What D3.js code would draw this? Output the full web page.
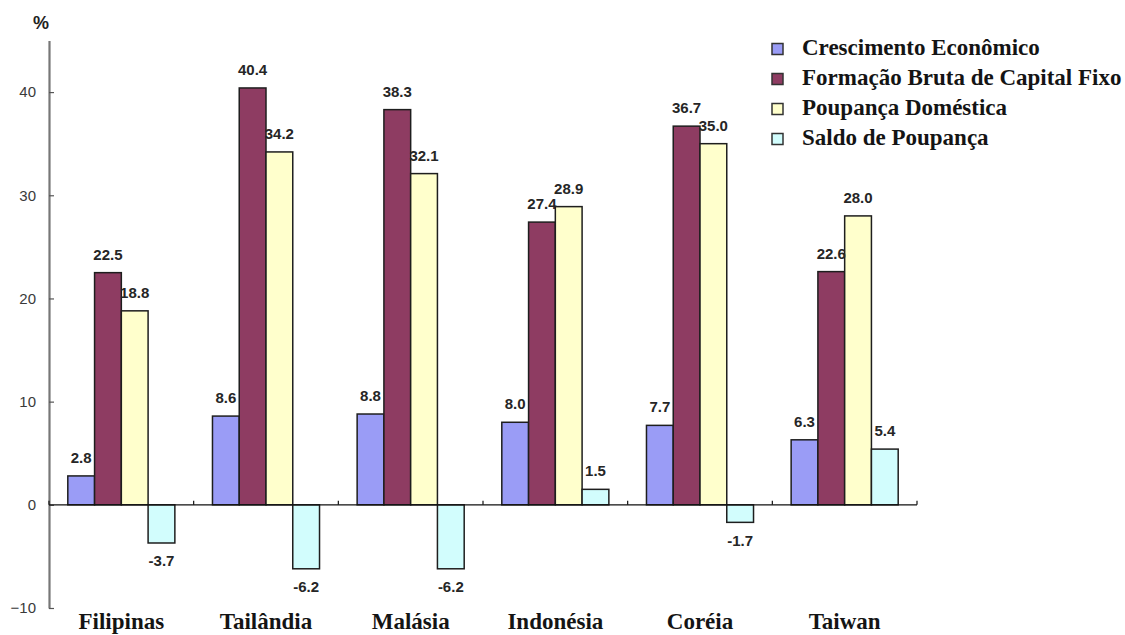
<!DOCTYPE html>
<html>
<head>
<meta charset="utf-8">
<script src="https://cdn.jsdelivr.net/npm/d3@7/dist/d3.min.js"></script>
<style>
  html, body { margin: 0; padding: 0; background: #fff; }
  svg { display: block; }
</style>
</head>
<body>
<svg id="chart" width="1125" height="635"></svg>
<script>
// Countries (x categories)
const categories = ["Filipinas", "Tailândia", "Malásia", "Indonésia", "Coréia", "Taiwan"];

// Series names, in legend order
const seriesNames = [
  "Crescimento Econômico",
  "Formação Bruta de Capital Fixo",
  "Poupança Doméstica",
  "Saldo de Poupança"
];

// Values per series, one per country (%)
const crescimento = [2.8, 8.6, 8.8, 8.0, 7.7, 6.3];
const formacao    = [22.5, 40.4, 38.3, 27.4, 36.7, 22.6];
const poupanca    = [18.8, 34.2, 32.1, 28.9, 35.0, 28.0];
const saldo       = [-3.7, -6.2, -6.2, 1.5, -1.7, 5.4];

// Y axis ticks
const yTicks = [-10, 0, 10, 20, 30, 40];
const yUnit = "%";

(function draw() {
  const seriesValues = [crescimento, formacao, poupanca, saldo];
  const colors = ["#9a9cf6", "#8e3c62", "#ffffcc", "#d2fdfd"];
  const serif = "'Liberation Serif', 'Times New Roman', Tinos, 'DejaVu Serif', serif";
  const sans = "'Liberation Sans', Arial, sans-serif";

  const svg = d3.select("#chart");

  const plotLeft = 49, plotRight = 917, plotTop = 40.5, plotBottom = 608;

  const y = d3.scaleLinear().domain([-10, 45]).range([plotBottom, plotTop]);
  const x0 = d3.scaleBand().domain(categories).range([plotLeft, plotRight]).padding(0);
  const bw = x0.bandwidth();
  const x1 = d3.scaleBand().domain(d3.range(seriesNames.length))
    .range([bw * 0.13, bw * 0.87]).padding(0);

  // Y axis with inward ticks
  const yAxis = d3.axisLeft(y).tickValues(yTicks).tickSizeInner(-5).tickSizeOuter(0).tickPadding(13);
  const gy = svg.append("g").attr("transform", `translate(${plotLeft},0)`).call(yAxis);
  gy.select(".domain").attr("stroke", "#777").attr("stroke-width", 2.2);
  gy.selectAll(".tick line").attr("stroke", "#555").attr("stroke-width", 1.2);
  gy.selectAll(".tick text")
    .attr("fill", "#3a3a3a")
    .style("font-family", sans)
    .style("font-size", "15px");

  svg.append("text")
    .attr("x", 41).attr("y", 29)
    .attr("text-anchor", "middle")
    .style("font-family", sans)
    .style("font-size", "18px").style("font-weight", "bold")
    .attr("fill", "#222")
    .text(yUnit);

  // Bars
  const rows = [];
  categories.forEach((c, ci) => {
    seriesValues.forEach((vals, si) => rows.push({ c, si, v: vals[ci] }));
  });

  svg.append("g").selectAll("rect").data(rows).join("rect")
    .attr("x", d => x0(d.c) + x1(d.si))
    .attr("width", x1.bandwidth())
    .attr("y", d => y(Math.max(0, d.v)))
    .attr("height", d => Math.abs(y(d.v) - y(0)))
    .attr("fill", d => colors[d.si])
    .attr("stroke", "#1e1e1e")
    .attr("stroke-width", 1.5);

  // Zero baseline with category separators
  svg.append("line")
    .attr("x1", plotLeft).attr("x2", plotRight)
    .attr("y1", y(0)).attr("y2", y(0))
    .attr("stroke", "#111").attr("stroke-width", 1.3);

  const seps = categories.map(c => x0(c)).concat([plotRight]);
  svg.append("g").selectAll("line").data(seps).join("line")
    .attr("x1", d => d).attr("x2", d => d)
    .attr("y1", y(0)).attr("y2", y(0) - 4)
    .attr("stroke", "#111").attr("stroke-width", 1.2);

  // Value labels
  svg.append("g").selectAll("text").data(rows).join("text")
    .attr("x", d => x0(d.c) + x1(d.si) + x1.bandwidth() / 2)
    .attr("y", d => d.v >= 0 ? y(d.v) - 13 : y(d.v) + 23.5)
    .attr("text-anchor", "middle")
    .style("font-family", sans)
    .style("font-size", "15px").style("font-weight", "bold")
    .attr("fill", "#262626")
    .text(d => d.v.toFixed(1));

  // Category labels
  svg.append("g").selectAll("text").data(categories).join("text")
    .attr("x", d => x0(d) + bw / 2)
    .attr("y", 629)
    .attr("text-anchor", "middle")
    .style("font-family", serif)
    .style("font-size", "23px").style("font-weight", "bold")
    .attr("fill", "#141414")
    .text(d => d);

  // Legend
  const lg = svg.append("g").attr("transform", "translate(772,0)");
  const items = lg.selectAll("g").data(seriesNames).join("g")
    .attr("transform", (d, i) => `translate(0,${49 + i * 30})`);
  items.append("rect")
    .attr("x", 0).attr("y", -5.5).attr("width", 11).attr("height", 11)
    .attr("fill", (d, i) => colors[i])
    .attr("stroke", "#333").attr("stroke-width", 1.5);
  items.append("text")
    .attr("x", 30).attr("y", 6)
    .style("font-family", serif)
    .style("font-size", "23px").style("font-weight", "bold")
    .attr("fill", "#141414")
    .text(d => d);
})();
</script>
</body>
</html>
